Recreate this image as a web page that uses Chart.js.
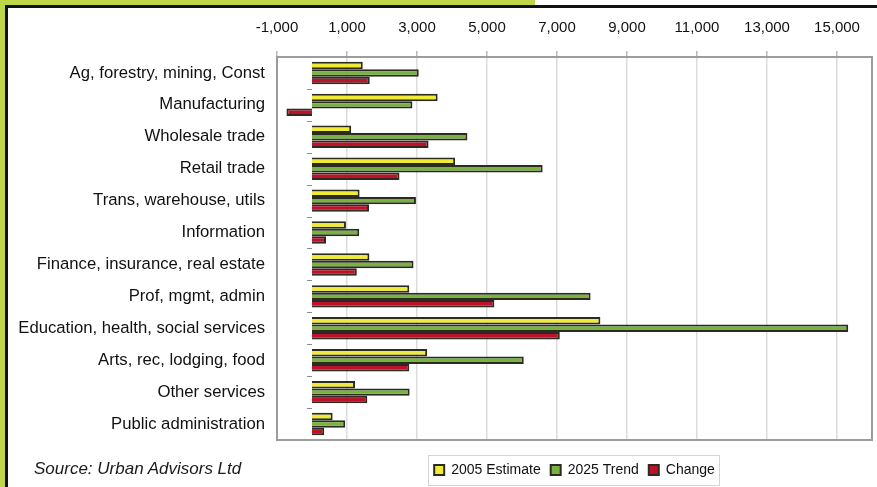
<!DOCTYPE html>
<html>
<head>
<meta charset="utf-8">
<script src="https://cdn.jsdelivr.net/npm/chart.js@4.4.1/dist/chart.umd.min.js"></script>
<style>
    html, body { margin: 0; padding: 0; background: #ffffff; }
    #wrap { position: relative; width: 877px; height: 487px; overflow: hidden; }
    #chartBox { position: absolute; left: 0; top: 0; width: 877px; height: 487px; }
    .frame { position: absolute; z-index: 2; }
    #source {
        position: absolute; left: 34px; top: 459px; z-index: 3;
        font-family: 'Liberation Sans', Arial, sans-serif; font-style: italic;
        font-size: 17px; color: #1a1a1a; white-space: nowrap;
    }
</style>
</head>
<body>
<div id="wrap">
    <div id="chartBox"><canvas id="sectorChart"></canvas></div>
    <!-- green / black frame at the top-left -->
    <div class="frame" style="left:0;top:0;width:5px;height:487px;background:#bdd748;"></div>
    <div class="frame" style="left:0;top:0;width:535px;height:5px;background:#bdd748;"></div>
    <div class="frame" style="left:5px;top:5px;width:872px;height:3px;background:#111;"></div>
    <div class="frame" style="left:5px;top:5px;width:3px;height:482px;background:#111;"></div>
    <div id="source">Source: Urban Advisors Ltd</div>
</div>
<script>
// Data
const categories = [
    'Ag, forestry, mining, Const',
    'Manufacturing',
    'Wholesale trade',
    'Retail trade',
    'Trans, warehouse, utils',
    'Information',
    'Finance, insurance, real estate',
    'Prof, mgmt, admin',
    'Education, health, social services',
    'Arts, rec, lodging, food',
    'Other services',
    'Public administration'
];
const estimate2005 = [1450, 3590, 1120, 4090, 1360, 970, 1640, 2780, 8240, 3290, 1230, 590];
const trend2025 = [3050, 2870, 4440, 6590, 2970, 1350, 2900, 7960, 15320, 6050, 2790, 950];
const change = [1650, -730, 3330, 2500, 1630, 400, 1280, 5210, 7080, 2780, 1580, 350];
const tickValues = [-1000, 1000, 3000, 5000, 7000, 9000, 11000, 13000, 15000];

const FONT = "'Liberation Sans', Arial, sans-serif";

// plot frame, legend box and the small category ticks at zero
const decorPlugin = {
    id: 'decor',
    beforeDatasetsDraw(chart) {
        const ctx = chart.ctx;
        const x0 = chart.scales.x.getPixelForValue(0);
        const y = chart.scales.y;
        const step = y.getPixelForValue(1) - y.getPixelForValue(0);
        ctx.save();
        ctx.strokeStyle = '#8c8c8c';
        ctx.lineWidth = 1;
        for (let i = 1; i < categories.length; i++) {
            const py = Math.round(y.getPixelForValue(i) - step / 2) + 0.5;
            ctx.beginPath();
            ctx.moveTo(x0 - 5, py);
            ctx.lineTo(x0, py);
            ctx.stroke();
        }
        ctx.restore();
    },
    afterDraw(chart) {
        const ctx = chart.ctx;
        const a = chart.chartArea;
        ctx.save();
        ctx.strokeStyle = '#9c9c9c';
        ctx.lineWidth = 2;
        ctx.strokeRect(a.left, a.top, a.right - a.left, a.bottom - a.top);

        const boxes = chart.legend.legendHitBoxes;
        if (boxes && boxes.length) {
            let l = Infinity, r = -Infinity, t = Infinity, b = -Infinity;
            boxes.forEach(h => {
                l = Math.min(l, h.left); r = Math.max(r, h.left + h.width);
                t = Math.min(t, h.top); b = Math.max(b, h.top + h.height);
            });
            ctx.strokeStyle = '#d4d4d4';
            ctx.lineWidth = 1;
            ctx.strokeRect(Math.round(l - 6) + 0.5, Math.round(t - 8) + 0.5, Math.round(r - l + 10), Math.round(b - t + 16));
        }
        ctx.restore();
    }
};

const ctx = document.getElementById('sectorChart').getContext('2d');
new Chart(ctx, {
    type: 'bar',
    data: {
        labels: categories,
        datasets: [{
            label: '2005 Estimate',
            data: estimate2005,
            backgroundColor: '#f0ec35',
            borderColor: '#2b2b22',
            borderWidth: 2,
            xAxisID: 'x'
        }, {
            label: '2025 Trend',
            data: trend2025,
            backgroundColor: '#78b340',
            borderColor: '#2b2b22',
            borderWidth: 2,
            xAxisID: 'x'
        }, {
            label: 'Change',
            data: change,
            backgroundColor: '#bd1229',
            borderColor: '#2b2b22',
            borderWidth: 2,
            xAxisID: 'x'
        }]
    },
    options: {
        indexAxis: 'y',
        responsive: true,
        maintainAspectRatio: false,
        animation: false,
        datasets: {
            bar: {
                barPercentage: 1,
                categoryPercentage: 0.7
            }
        },
        layout: {
            padding: { left: 0, right: 5, top: 0, bottom: 0 }
        },
        plugins: {
            legend: {
                position: 'bottom',
                fullSize: false,
                labels: {
                    boxWidth: 10,
                    boxHeight: 10,
                    padding: 10,
                    color: '#111',
                    font: { family: FONT, size: 14 }
                }
            },
            tooltip: { enabled: false }
        },
        scales: {
            x: {
                type: 'linear',
                position: 'top',
                min: -1000,
                max: 16000,
                afterBuildTicks: function (scale) {
                    scale.ticks = tickValues.map(v => ({ value: v }));
                },
                afterFit: function (scale) {
                    scale.height = 57;
                },
                border: { display: false },
                grid: {
                    color: '#dcdcdc',
                    lineWidth: 1.5,
                    drawTicks: true,
                    tickLength: 6,
                    tickColor: '#b8b8b8'
                },
                ticks: {
                    color: '#111',
                    padding: 14,
                    maxRotation: 0,
                    font: { family: FONT, size: 15 },
                    callback: function (value) {
                        return value.toLocaleString('en-US');
                    }
                }
            },
            gap: {
                type: 'linear',
                axis: 'x',
                position: 'bottom',
                display: true,
                border: { display: false },
                grid: { display: false, drawTicks: false },
                ticks: { display: false },
                afterFit: function (scale) {
                    scale.height = 13;
                }
            },
            y: {
                type: 'category',
                afterFit: function (scale) {
                    scale.width = 277;
                },
                border: { display: false },
                grid: { display: false, drawTicks: false },
                ticks: {
                    color: '#111',
                    padding: 12,
                    font: { family: FONT, size: 16.7 }
                }
            }
        }
    },
    plugins: [decorPlugin]
});
</script>
</body>
</html>
